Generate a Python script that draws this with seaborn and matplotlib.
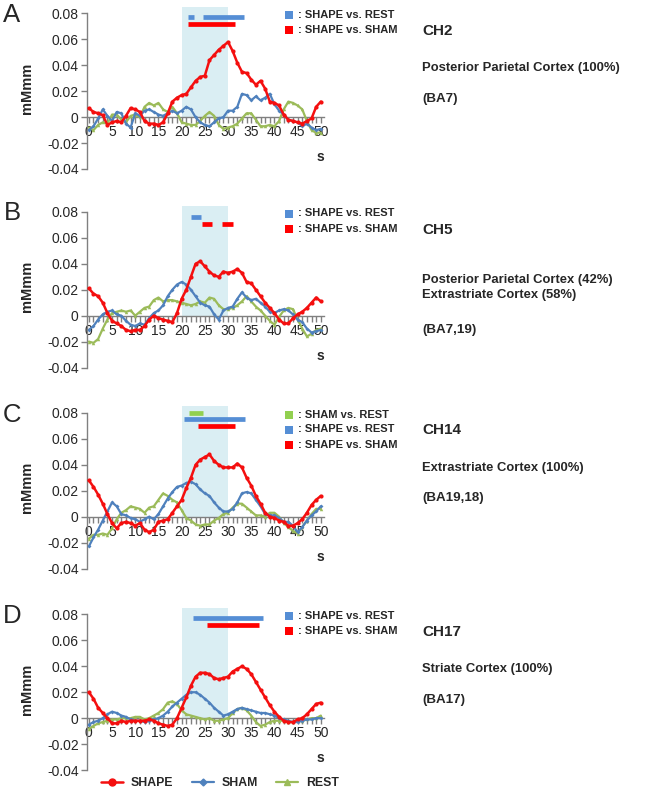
import numpy as np
import pandas as pd
import matplotlib
matplotlib.use("Agg")
import matplotlib.pyplot as plt
from matplotlib.lines import Line2D
import seaborn as sns

sns.set_style("white")
plt.rcParams['font.family'] = ['Liberation Sans', 'DejaVu Sans']

# time axis (s)
t = list(range(0, 51))

# Panel A - CH2
shape_a = [0.007, 0.004, 0.003, 0.0015, -0.006, -0.004, -0.003, -0.004, 0.001, 0.007, 0.006, 0.004, -0.003,
           -0.005, -0.005, -0.006, -0.004, 0.003, 0.012, 0.015, 0.017, 0.018, 0.023, 0.028, 0.031, 0.032, 0.044,
           0.048, 0.052, 0.055, 0.058, 0.051, 0.042, 0.035, 0.034, 0.029, 0.025, 0.028, 0.022, 0.012, 0.011,
           0.009, 0.002, -0.002, -0.003, -0.004, -0.005, -0.003, -0.001, 0.008, 0.012]
sham_a = [-0.010, -0.007, -0.001, 0.006, 0.001, -0.003, 0.004, 0.003, -0.005, -0.008, 0.003, 0.001, 0.005,
          0.006, 0.004, 0.002, 0.001, 0.003, 0.005, 0.003, 0.005, 0.008, 0.006, 0.000, -0.004, -0.006, -0.007,
          -0.004, -0.001, 0.000, 0.005, 0.005, 0.008, 0.018, 0.017, 0.013, 0.016, 0.013, 0.015, 0.018, 0.010,
          0.005, 0.002, -0.002, -0.003, -0.004, -0.007, -0.005, -0.008, -0.010, -0.009]
rest_a = [-0.008, -0.010, -0.006, -0.004, -0.005, 0.002, 0.002, -0.002, -0.004, 0.001, 0.002, 0.000, 0.008,
          0.011, 0.009, 0.011, 0.006, 0.004, 0.008, 0.003, -0.004, -0.005, -0.006, -0.006, -0.003, 0.001, 0.004,
          0.001, -0.006, -0.009, -0.008, -0.007, -0.005, -0.001, 0.003, 0.003, -0.002, -0.007, -0.007, -0.006,
          -0.007, -0.003, 0.006, 0.012, 0.011, 0.009, 0.006, -0.003, -0.010, -0.012, -0.012]

# Panel B - CH5
shape_b = [0.021, 0.017, 0.015, 0.010, 0.002, -0.004, -0.006, -0.008, -0.011, -0.012, -0.011, -0.011, -0.008,
           -0.003, 0.000, -0.002, -0.003, -0.004, -0.005, 0.002, 0.013, 0.020, 0.030, 0.040, 0.042, 0.038, 0.034,
           0.031, 0.030, 0.034, 0.033, 0.034, 0.036, 0.033, 0.026, 0.025, 0.020, 0.015, 0.010, 0.006, 0.002,
           -0.003, -0.006, -0.006, -0.002, 0.001, 0.003, 0.006, 0.010, 0.014, 0.011]
sham_b = [-0.011, -0.008, -0.003, 0.001, 0.003, 0.004, 0.001, 0.000, -0.004, -0.007, -0.008, -0.006, -0.007,
          -0.002, 0.002, 0.004, 0.008, 0.015, 0.020, 0.024, 0.026, 0.024, 0.020, 0.015, 0.010, 0.008, 0.007,
          0.001, -0.003, 0.004, 0.006, 0.007, 0.013, 0.018, 0.014, 0.012, 0.013, 0.010, 0.007, 0.003, 0.002,
          0.004, 0.005, 0.004, 0.001, -0.003, -0.005, -0.010, -0.013, -0.012, -0.011]
rest_b = [-0.020, -0.021, -0.018, -0.010, -0.003, 0.002, 0.003, 0.004, 0.003, 0.004, 0.000, 0.003, 0.006,
          0.007, 0.012, 0.014, 0.011, 0.012, 0.012, 0.011, 0.010, 0.009, 0.008, 0.009, 0.011, 0.010, 0.014,
          0.013, 0.008, 0.005, 0.005, 0.006, 0.008, 0.011, 0.015, 0.011, 0.007, 0.004, 0.000, -0.004, -0.007,
          -0.001, 0.004, 0.006, 0.005, -0.003, -0.010, -0.016, -0.014, -0.011, -0.010]

# Panel C - CH14
shape_c = [0.028, 0.023, 0.017, 0.010, 0.002, -0.005, -0.009, -0.005, -0.004, -0.005, -0.007, -0.005, -0.010,
           -0.012, -0.010, -0.004, -0.003, -0.002, 0.003, 0.008, 0.013, 0.022, 0.030, 0.040, 0.044, 0.046, 0.048,
           0.043, 0.040, 0.038, 0.038, 0.038, 0.041, 0.038, 0.030, 0.024, 0.016, 0.010, 0.003, 0.000, -0.001,
           -0.003, -0.004, -0.007, -0.007, -0.005, -0.002, 0.003, 0.009, 0.013, 0.016]
sham_c = [-0.023, -0.016, -0.010, -0.003, 0.004, 0.011, 0.008, 0.002, 0.001, -0.001, -0.002, -0.004, -0.002,
          0.000, -0.002, 0.002, 0.008, 0.014, 0.019, 0.023, 0.024, 0.026, 0.027, 0.025, 0.021, 0.018, 0.016,
          0.011, 0.007, 0.004, 0.004, 0.006, 0.011, 0.018, 0.019, 0.018, 0.013, 0.008, 0.002, 0.001, 0.001,
          -0.001, -0.004, -0.004, -0.007, -0.012, -0.008, -0.003, 0.001, 0.004, 0.008]
rest_c = [-0.017, -0.014, -0.014, -0.013, -0.014, -0.009, -0.002, 0.003, 0.005, 0.008, 0.007, 0.006, 0.003,
          0.007, 0.008, 0.013, 0.018, 0.016, 0.013, 0.011, 0.005, -0.001, -0.003, -0.006, -0.007, -0.006, -0.006,
          -0.003, -0.001, 0.002, 0.003, 0.007, 0.010, 0.010, 0.007, 0.004, 0.001, 0.001, 0.000, 0.003, 0.003,
          0.000, -0.005, -0.008, -0.011, -0.013, -0.008, -0.003, 0.002, 0.006, 0.006]

# Panel D - CH17
shape_d = [0.020, 0.015, 0.008, 0.004, 0.000, -0.004, -0.004, -0.002, -0.003, -0.002, -0.002, -0.002, -0.002,
           -0.001, -0.002, -0.004, -0.005, -0.006, -0.005, 0.000, 0.008, 0.016, 0.025, 0.032, 0.035, 0.035, 0.034,
           0.031, 0.030, 0.031, 0.032, 0.036, 0.038, 0.040, 0.038, 0.034, 0.028, 0.022, 0.016, 0.010, 0.005,
           0.001, -0.002, -0.003, -0.003, -0.001, 0.000, 0.003, 0.007, 0.011, 0.012]
sham_d = [-0.005, -0.003, -0.002, 0.000, 0.003, 0.005, 0.004, 0.002, 0.001, -0.001, -0.002, -0.002, -0.003,
          -0.002, -0.001, 0.000, 0.002, 0.005, 0.009, 0.012, 0.015, 0.018, 0.020, 0.020, 0.018, 0.015, 0.012,
          0.008, 0.005, 0.002, 0.003, 0.005, 0.007, 0.008, 0.007, 0.006, 0.005, 0.004, 0.004, 0.003, 0.002,
          0.000, -0.001, -0.002, -0.003, -0.003, -0.002, -0.001, -0.001, 0.000, 0.000]
rest_d = [-0.008, -0.006, -0.004, -0.003, -0.002, -0.001, -0.001, 0.000, 0.000, 0.000, 0.001, 0.001, -0.001,
          0.000, 0.002, 0.004, 0.007, 0.012, 0.013, 0.011, 0.006, 0.003, 0.002, 0.001, 0.000, -0.001, 0.000,
          -0.002, -0.002, -0.001, 0.000, 0.004, 0.007, 0.008, 0.006, 0.002, -0.003, -0.006, -0.005, -0.003,
          -0.002, -0.002, -0.002, -0.003, -0.003, -0.002, -0.002, -0.001, 0.000, 0.000, 0.002]

# significance bars: (label, start, end, level)
sig_a = [('SHAPE vs. REST', 21.3, 22.6, 0.0775), ('SHAPE vs. REST', 24.6, 33.4, 0.0775),
         ('SHAPE vs. SHAM', 21.3, 31.5, 0.0717)]
sig_b = [('SHAPE vs. REST', 22.0, 24.1, 0.0762), ('SHAPE vs. SHAM', 24.4, 26.5, 0.0708),
         ('SHAPE vs. SHAM', 28.8, 31.0, 0.0708)]
sig_c = [('SHAM vs. REST', 21.6, 24.5, 0.0803), ('SHAPE vs. REST', 20.5, 33.6, 0.0750),
         ('SHAPE vs. SHAM', 23.5, 31.5, 0.0697)]
sig_d = [('SHAPE vs. REST', 22.4, 37.5, 0.0769), ('SHAPE vs. SHAM', 25.4, 36.6, 0.0716)]

legends_a = ['SHAPE vs. REST', 'SHAPE vs. SHAM']
legends_b = ['SHAPE vs. REST', 'SHAPE vs. SHAM']
legends_c = ['SHAM vs. REST', 'SHAPE vs. REST', 'SHAPE vs. SHAM']
legends_d = ['SHAPE vs. REST', 'SHAPE vs. SHAM']

info_a = ['CH2', 'Posterior Parietal Cortex (100%)', '(BA7)']
info_b = ['CH5', 'Posterior Parietal Cortex (42%)\nExtrastriate Cortex (58%)', '(BA7,19)']
info_c = ['CH14', 'Extrastriate Cortex (100%)', '(BA19,18)']
info_d = ['CH17', 'Striate Cortex (100%)', '(BA17)']

red = '#F40F0F'
blue = '#4F81BD'
green = '#9BBB59'
sig_colors = {'SHAPE vs. REST': '#558ED5', 'SHAPE vs. SHAM': '#FF0000', 'SHAM vs. REST': '#92D050'}

panels = [
    ('A', shape_a, sham_a, rest_a, sig_a, legends_a, info_a),
    ('B', shape_b, sham_b, rest_b, sig_b, legends_b, info_b),
    ('C', shape_c, sham_c, rest_c, sig_c, legends_c, info_c),
    ('D', shape_d, sham_d, rest_d, sig_d, legends_d, info_d),
]

W, H = 664, 792
fig = plt.figure(figsize=(W / 100, H / 100), dpi=100)

# top pixel of each panel (ylim top), bottom pixel (-0.04)
panel_top = [7, 205.5, 406.5, 608]
panel_h = 162

for i, (letter, shp, shm, rst, sig, legs, info) in enumerate(panels):
    top = panel_top[i]
    ax = fig.add_axes([87 / W, 1 - (top + panel_h) / H, 236.6 / W, panel_h / H])
    df = pd.DataFrame({'t': t, 'SHAPE': shp, 'SHAM': shm, 'REST': rst})

    ax.fill_between([20, 30], 0, 0.085, color='#DAEEF3', lw=0, zorder=0)

    sns.lineplot(data=df, x='t', y='REST', ax=ax, color=green, lw=1.6, marker='^', markersize=2.5,
                 markeredgewidth=0, zorder=3)
    sns.lineplot(data=df, x='t', y='SHAM', ax=ax, color=blue, lw=1.6, marker='D', markersize=2,
                 markeredgewidth=0, zorder=4)
    sns.lineplot(data=df, x='t', y='SHAPE', ax=ax, color=red, lw=1.8, marker='o', markersize=3,
                 markeredgewidth=0, zorder=5)

    for lab, x0, x1, lev in sig:
        ax.hlines(lev, x0, x1, color=sig_colors[lab], lw=3.4, zorder=6)

    ax.set_xlim(-0.4, 50.6)
    ax.set_ylim(-0.04, 0.085)
    ax.set_yticks([-0.04, -0.02, 0, 0.02, 0.04, 0.06, 0.08])
    ax.set_yticklabels(['-0.04', '-0.02', '0', '0.02', '0.04', '0.06', '0.08'])
    ax.set_xticks(t)
    ax.set_xticklabels([str(v) if v % 5 == 0 else '' for v in t])
    ax.spines['top'].set_visible(False)
    ax.spines['right'].set_visible(False)
    ax.spines['bottom'].set_position(('data', 0))
    ax.spines['left'].set_bounds(-0.04, 0.08)
    for s in ['left', 'bottom']:
        ax.spines[s].set_color('#808080')
        ax.spines[s].set_linewidth(1.0)
    ax.tick_params(axis='both', direction='out', length=4, color='#808080', width=1.0,
                   labelsize=10, pad=2, left=True, bottom=True)
    ax.set_xlabel('')
    ax.set_ylabel('mMmm', fontsize=10.5, fontweight='bold', labelpad=9)
    ax.text(50, -0.031, 's', fontsize=10, fontweight='bold', ha='center', va='center')

    # panel letter
    fig.text(12 / W, 1 - (top + 8) / H, letter, fontsize=18.5, ha='center', va='center')

    # significance legend
    for j, lab in enumerate(legs):
        yy = 1 - (top + 8 + 15 * j) / H
        fig.add_artist(Line2D([289 / W], [yy], marker='s', markersize=6, color=sig_colors[lab],
                              markeredgewidth=0))
        fig.text(298 / W, yy, ': ' + lab, fontsize=8, fontweight='bold', ha='left', va='center')

    # region info
    fig.text(422 / W, 1 - (top + 24) / H, info[0], fontsize=11, fontweight='bold', va='center')
    if '\n' in info[1]:
        fig.text(422 / W, 1 - (top + 82) / H, info[1], fontsize=9.4, fontweight='bold', va='center',
                 linespacing=1.35)
        fig.text(422 / W, 1 - (top + 124) / H, info[2], fontsize=9.6, fontweight='bold', va='center')
    else:
        fig.text(422 / W, 1 - (top + 61) / H, info[1], fontsize=9.4, fontweight='bold', va='center')
        fig.text(422 / W, 1 - (top + 92) / H, info[2], fontsize=9.6, fontweight='bold', va='center')

handles = [Line2D([], [], color=red, lw=1.8, marker='o', markersize=5),
           Line2D([], [], color=blue, lw=1.6, marker='D', markersize=3.5),
           Line2D([], [], color=green, lw=1.6, marker='^', markersize=4)]
fig.legend(handles, ['SHAPE', 'SHAM', 'REST'], loc='center', bbox_to_anchor=(220 / W, 1 - 783 / H),
           ncol=3, frameon=False, prop={'weight': 'bold', 'size': 8.8}, handlelength=1.8,
           columnspacing=1.5, handletextpad=0.65)

fig.savefig('out.png', dpi=100)
